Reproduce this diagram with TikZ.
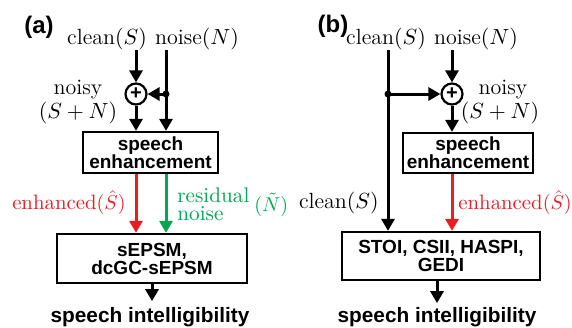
\documentclass[tikz,border=0pt]{standalone}
\usepackage{fontspec}
\setsansfont{Liberation Sans}
\usetikzlibrary{arrows.meta,calc}
\definecolor{sigred}{RGB}{237,28,36}
\definecolor{siggreen}{RGB}{0,166,81}
\begin{document}
\begin{tikzpicture}[x=0.5pt,y=-0.5pt,
  flow/.style={line width=1.5pt,-{Triangle[length=6pt,width=6.5pt]}},
  blk/.style={draw,line width=1.15pt,inner sep=0pt,align=center,
    font=\sffamily\bfseries\fontsize{9.5}{9}\selectfont},
  lbl/.style={inner sep=0pt,font=\fontsize{11}{11}\selectfont},
  sublbl/.style={inner sep=0pt,font=\fontsize{10.4}{10.4}\selectfont},
  outtxt/.style={inner sep=0pt,font=\sffamily\bfseries\fontsize{10.4}{12}\selectfont},
  tag/.style={inner sep=0pt,font=\sffamily\bfseries\fontsize{12}{14}\selectfont},
  sumnode/.style={draw,circle,line width=1.1pt,minimum size=10.5pt,inner sep=0pt,
    font=\sffamily\bfseries\fontsize{10}{10}\selectfont},
  jn/.style={circle,fill,inner sep=0pt,minimum size=3.5pt}]
\useasboundingbox (0,0) rectangle (572,327);

% ---------- panel (a): sEPSM / dcGC-sEPSM ----------
\node[tag] (ta) at (39,27) {(a)};
\node[lbl] (cleanA) at (107,39) {clean$(S)$};
\node[lbl] (noiseA) at (197,39) {noise$(N)$};
\node[sumnode] (sumA) at (136,94) {+};
\node[jn] (jA) at (166,94) {};
\node[lbl] (noisyA) at (78,90) {noisy};
\node[lbl] (snA) at (78,113) {$(S+N)$};
\node[blk,minimum width=67.5pt,minimum height=20.5pt] (seA) at (150.5,152.5) {speech\\enhancement};
\node[blk,minimum width=95pt,minimum height=24.5pt] (evA) at (152,258.5) {sEPSM,\\dcGC-sEPSM};
\node[outtxt] (siA) at (150,317) {speech intelligibility};
\node[sublbl,text=sigred,anchor=east] (enA) at (126,203) {enhanced$(\hat S)$};
\node[sublbl,text=siggreen,anchor=west,align=left,font=\fontsize{10.6}{9}\selectfont] (rnA) at (177,204) {residual\\noise};
\node[sublbl,text=siggreen,anchor=west] (ntA) at (254,205) {$(\tilde N)$};

\draw[flow] (cleanA.south -| sumA.north) -- (sumA.north);
\draw[flow] (noiseA.south -| jA) -- (seA.north -| jA);
\draw[flow] (jA.center) -- (sumA.east);
\draw[flow] (sumA.south) -- (seA.north -| sumA);
\draw[flow,sigred] (seA.south -| sumA) -- (evA.north -| sumA);
\draw[flow,siggreen] (seA.south -| jA) -- (evA.north -| jA);
\draw[flow] (evA.south) -- ++(0,17);

% ---------- panel (b): STOI, CSII, HASPI, GEDI ----------
\node[tag] (tb) at (333,26) {(b)};
\node[lbl] (cleanB) at (386,39) {clean$(S)$};
\node[lbl] (noiseB) at (476,39) {noise$(N)$};
\node[sumnode] (sumB) at (452,94) {+};
\node[jn] (jB) at (388,94) {};
\node[lbl] (noisyB) at (503,90) {noisy};
\node[lbl] (snB) at (500,113) {$(S+N)$};
\node[blk,minimum width=65pt,minimum height=20pt] (seB) at (468,153) {speech\\enhancement};
\node[blk,minimum width=99pt,minimum height=24pt] (evB) at (441,256) {STOI, CSII, HASPI,\\GEDI};
\node[outtxt] (siB) at (437,317) {speech intelligibility};
\node[sublbl,text=sigred,anchor=west] (enB) at (458,203) {enhanced$(\hat S)$};
\node[lbl,anchor=east] (clB) at (379,203) {clean$(S)$};

\draw[flow] (cleanB.south -| jB) -- (evB.north -| jB);
\draw[flow] (noiseB.south -| sumB) -- (sumB.north);
\draw[flow] (jB.center) -- (sumB.west);
\draw[flow] (sumB.south) -- (seB.north -| sumB);
\draw[flow,sigred] (seB.south -| sumB) -- (evB.north -| sumB);
\draw[flow] (evB.south -| siB) -- ++(0,22);
\end{tikzpicture}
\end{document}
